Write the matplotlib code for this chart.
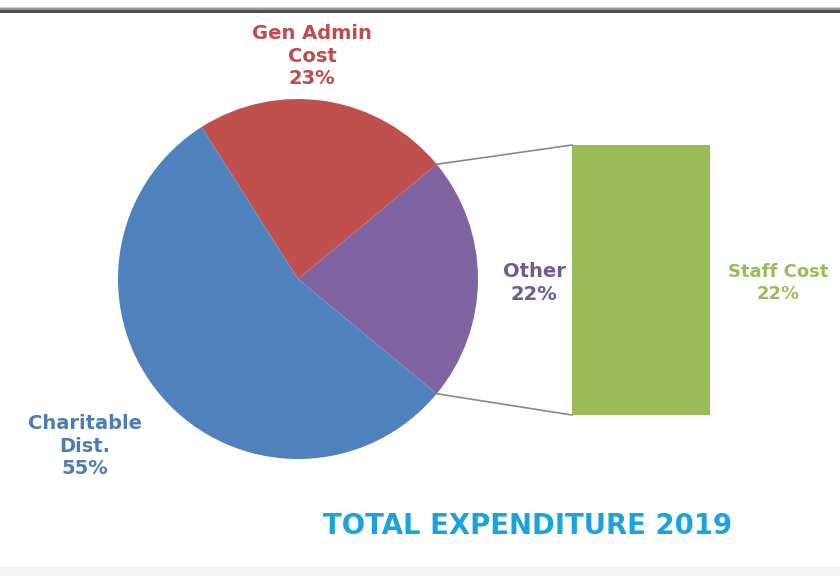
import numpy as np
import matplotlib.pyplot as plt
from matplotlib.patches import Rectangle

# pie slices (counter-clockwise starting from the "Other" slice)
labels = ['Other', 'Gen Admin\nCost', 'Charitable\nDist.']
values = [22, 23, 55]
colors = ['#8064A2', '#C0504D', '#4F81BD']
label_colors = ['#6E5A96', '#BF4B4B', '#4D7DB5']

# bar of pie: breakdown of "Other"
bar_labels = ['Staff Cost']
bar_values = [22]
bar_colors = ['#9BBB59']

title = 'TOTAL EXPENDITURE 2019'

W, H = 840, 576
fig = plt.figure(figsize=(W / 100, H / 100), dpi=100)
ax = fig.add_axes([0, 0, 1, 1])

cx, cy, r = 298, 297, 180
start = -values[0] / sum(values) * 360 / 2
wedges, _ = ax.pie(values, colors=colors, startangle=start, counterclock=True,
                   center=(cx, cy), radius=r, frame=True,
                   wedgeprops=dict(linewidth=0))
ax.set_xlim(0, W)
ax.set_ylim(0, H)
ax.set_aspect('equal')
ax.axis('off')

# top border line and faint footer band
ax.add_patch(Rectangle((0, H - 13), W, 3, color='#4f4f4f', lw=0))
ax.add_patch(Rectangle((0, H - 10), W, 2, color='#9a9a9a', lw=0))
ax.add_patch(Rectangle((0, H - 8), W, 1, color='#d0d0d0', lw=0))
ax.add_patch(Rectangle((0, 0), W, 9, color='#f3f3f3', lw=0))

# bar for the exploded slice
bx, bw, btop, bbot = 641, 138, H - 145, H - 415
scale = (btop - bbot) / values[0]
bottom = bbot
for v, c in zip(bar_values, bar_colors):
    ax.bar(bx, v * scale, width=bw, bottom=bottom, color=c, linewidth=0)
    bottom += v * scale

# connector lines from the "Other" wedge to the bar
w = wedges[0]
for ang, by in [(w.theta2, btop), (w.theta1, bbot)]:
    px = cx + r * np.cos(np.radians(ang))
    py = cy + r * np.sin(np.radians(ang))
    ax.plot([px, bx - bw / 2], [py, by], color='#8a8a8a', lw=1.2)

font = dict(fontsize=14, fontweight='bold', ha='center', va='center',
            family='DejaVu Sans', linespacing=1.25)
pct = [f'{v}%' for v in values]
ax.text(312, H - 56, labels[1] + '\n' + pct[1], color=label_colors[1], **font)
ax.text(534, H - 283, labels[0] + '\n' + pct[0], color=label_colors[0], **font)
ax.text(85, H - 446, labels[2] + '\n' + pct[2], color=label_colors[2], **font)
font['fontsize'] = 13
ax.text(778, H - 283, bar_labels[0] + '\n' + f'{bar_values[0]}%',
        color=bar_colors[0], **font)

ax.text(528, H - 526, title, color='#1BA3DF', fontsize=19.8, fontweight='bold',
        ha='center', va='center', family='DejaVu Sans')

fig.savefig('out.png', dpi=100)
